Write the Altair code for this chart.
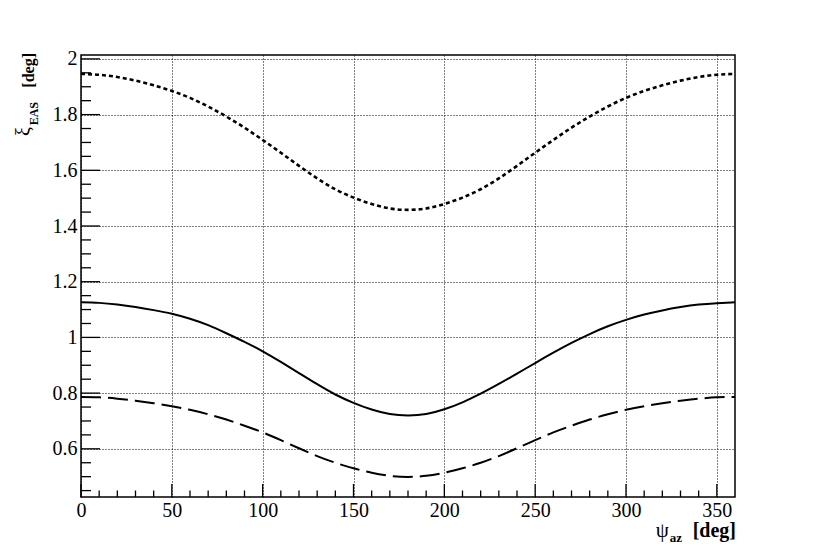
import altair as alt
import pandas as pd

# azimuth angle psi [deg]
psi = list(range(0, 361, 10))

# xi_EAS [deg] for the three curves
xi_dotted = [1.946, 1.943, 1.935, 1.922, 1.905, 1.885, 1.860, 1.829, 1.793, 1.753,
             1.709, 1.663, 1.616, 1.571, 1.532, 1.502, 1.479, 1.463, 1.458,
             1.463, 1.479, 1.502, 1.532, 1.571, 1.616, 1.663, 1.709, 1.753,
             1.793, 1.829, 1.860, 1.885, 1.905, 1.922, 1.935, 1.943, 1.946]
xi_solid = [1.126, 1.124, 1.118, 1.109, 1.098, 1.085, 1.067, 1.044, 1.015, 0.984,
            0.950, 0.912, 0.872, 0.832, 0.795, 0.765, 0.741, 0.725, 0.720,
            0.725, 0.742, 0.767, 0.798, 0.833, 0.870, 0.908, 0.945, 0.980,
            1.012, 1.040, 1.063, 1.082, 1.097, 1.109, 1.118, 1.123, 1.126]
xi_dashed = [0.786, 0.785, 0.780, 0.773, 0.764, 0.753, 0.740, 0.724, 0.705, 0.683,
             0.659, 0.631, 0.602, 0.574, 0.550, 0.530, 0.514, 0.503, 0.499,
             0.503, 0.514, 0.530, 0.550, 0.574, 0.602, 0.631, 0.659, 0.683,
             0.705, 0.724, 0.740, 0.753, 0.764, 0.773, 0.780, 0.785, 0.786]

x_major = [0, 50, 100, 150, 200, 250, 300, 350]
x_minor = [v for v in range(10, 360, 10) if v % 50 != 0]
y_major = [0.6, 0.8, 1.0, 1.2, 1.4, 1.6, 1.8, 2.0]
y_minor = [0.45, 0.5, 0.55, 0.65, 0.7, 0.75, 0.85, 0.9, 0.95, 1.05, 1.1, 1.15,
           1.25, 1.3, 1.35, 1.45, 1.5, 1.55, 1.65, 1.7, 1.75, 1.85, 1.9, 1.95]

W, H = 654, 442
FONT = "Liberation Serif"

xscale = alt.Scale(domain=[0, 360], nice=False, zero=False)
yscale = alt.Scale(domain=[0.427, 2.014], nice=False, zero=False)

df = pd.DataFrame({"psi": psi, "dotted": xi_dotted, "solid": xi_solid, "dashed": xi_dashed})

xaxis = alt.Axis(values=x_major, format="d", title="", grid=True, gridColor="black",
                 gridDash=[1, 2], gridWidth=1, gridOpacity=1, ticks=False, domain=False,
                 labelFont=FONT, labelFontSize=20, labelColor="black", labelPadding=3,
                 labelFlush=False)
yaxis = alt.Axis(values=y_major, format="~g", title="", grid=True, gridColor="black",
                 gridDash=[1, 2], gridWidth=1, gridOpacity=1, ticks=False, domain=False,
                 labelFont=FONT, labelFontSize=20, labelColor="black", labelPadding=4,
                 labelFlush=False)

base = alt.Chart(df)

grid_layer = base.mark_line(opacity=0).encode(
    x=alt.X("psi:Q", scale=xscale, axis=xaxis),
    y=alt.Y("solid:Q", scale=yscale, axis=yaxis),
)

solid = base.mark_line(color="black", strokeWidth=2, interpolate="natural").encode(
    x=alt.X("psi:Q", scale=xscale), y=alt.Y("solid:Q", scale=yscale))
dotted = base.mark_line(color="black", strokeWidth=2.6, strokeDash=[4, 3],
                        interpolate="natural").encode(
    x=alt.X("psi:Q", scale=xscale), y=alt.Y("dotted:Q", scale=yscale))
dashed = base.mark_line(color="black", strokeWidth=2, strokeDash=[20, 7],
                        interpolate="natural").encode(
    x=alt.X("psi:Q", scale=xscale), y=alt.Y("dashed:Q", scale=yscale))

# inward ticks (ROOT style)
xmaj = alt.Chart(pd.DataFrame({"v": x_major})).mark_rule(color="black", strokeWidth=1.3).encode(
    x=alt.X("v:Q", scale=xscale), y=alt.value(H), y2=alt.value(H - 13))
xmin = alt.Chart(pd.DataFrame({"v": x_minor})).mark_rule(color="black", strokeWidth=1.3).encode(
    x=alt.X("v:Q", scale=xscale), y=alt.value(H), y2=alt.value(H - 6.5))
ymaj = alt.Chart(pd.DataFrame({"v": y_major})).mark_rule(color="black", strokeWidth=1.3).encode(
    y=alt.Y("v:Q", scale=yscale), x=alt.value(0), x2=alt.value(19))
ymin = alt.Chart(pd.DataFrame({"v": y_minor})).mark_rule(color="black", strokeWidth=1.3).encode(
    y=alt.Y("v:Q", scale=yscale), x=alt.value(0), x2=alt.value(10))


def label(txt, x, y, size, bold=False, align="right", angle=0):
    kw = dict(font=FONT, fontSize=size, color="black", align=align, baseline="alphabetic")
    if bold:
        kw["fontWeight"] = "bold"
    if angle:
        kw["angle"] = angle
    return alt.Chart(pd.DataFrame({"t": [txt]})).mark_text(**kw).encode(
        text="t:N", x=alt.value(x), y=alt.value(y))


titles = [
    # x title: psi_az [deg]
    label("[deg]", 655, 482, 20, bold=True),
    label("az", 601, 487, 13, bold=True),
    label("ψ", 588, 482, 21),
    # y title: xi_EAS [deg]
    label("[deg]", -47, -2, 16, bold=True, angle=270),
    label("EAS", -43, 47, 12, bold=True, angle=270),
    label("ξ", -51, 72, 20, angle=270),
]

chart = alt.layer(grid_layer, xmaj, xmin, ymaj, ymin, solid, dashed, dotted, *titles).properties(
    width=W, height=H,
    autosize=alt.AutoSizeParams(type="none"),
    padding={"left": 73, "top": 47, "right": 50, "bottom": 54},
    background="white",
).configure_view(stroke="black", strokeWidth=1.5)

chart.save("out.html", embed_options={"renderer": "svg", "actions": False})
